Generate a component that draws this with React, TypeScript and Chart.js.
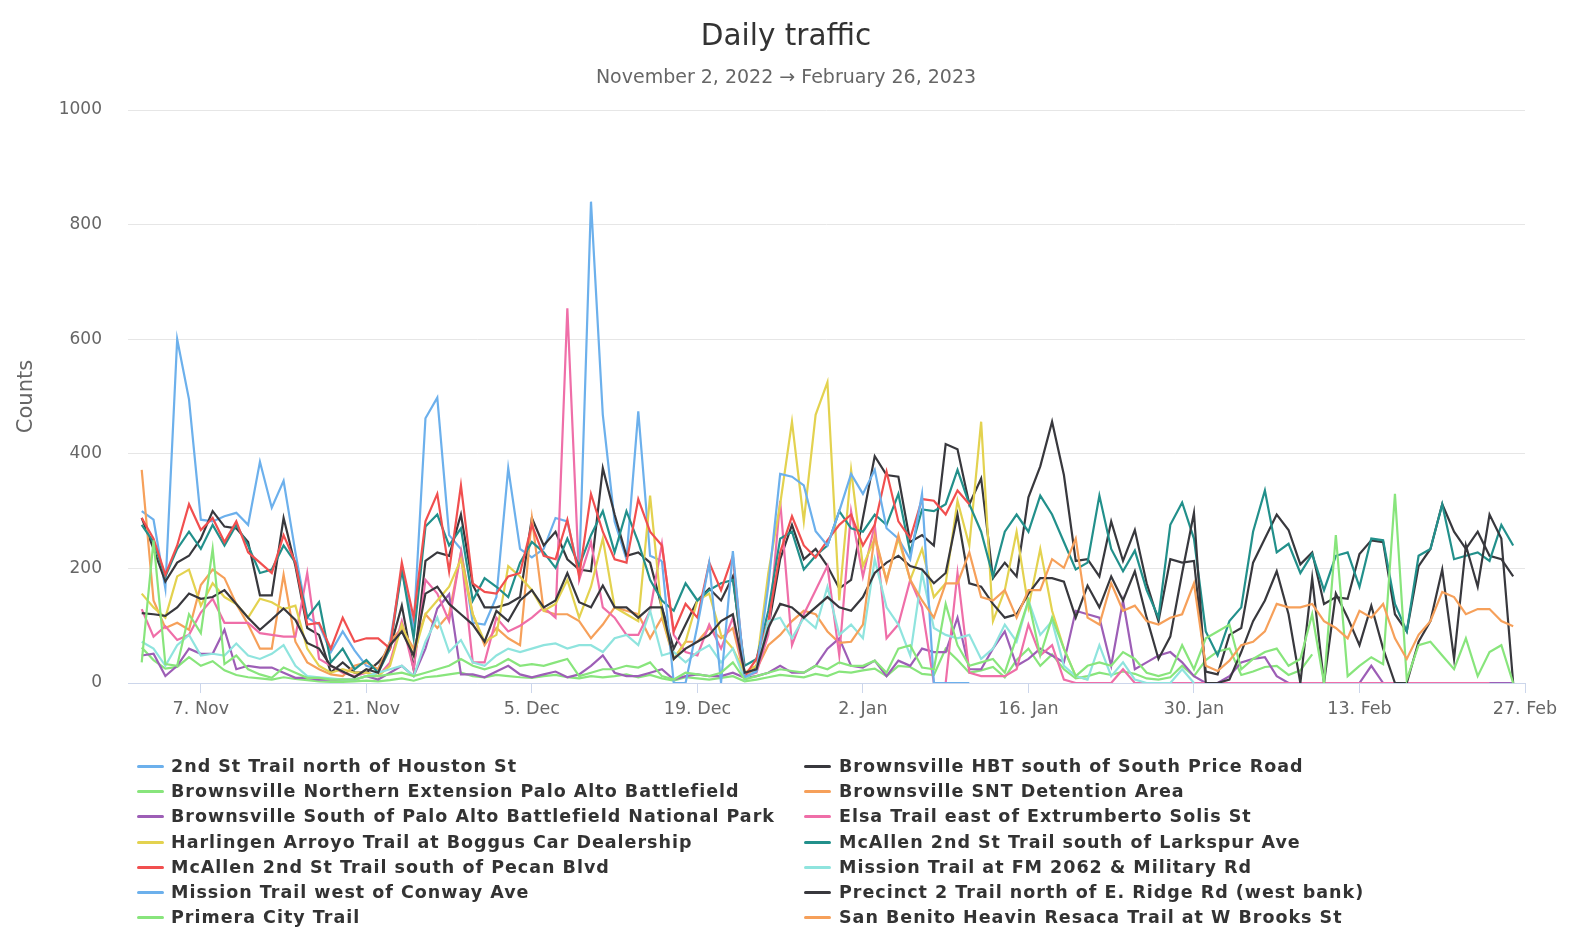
import React, { useEffect, useRef } from "react";
import { Chart, registerables } from "chart.js";

Chart.register(...registerables);

// ---- titles / axis labels ----
const titleText = "Daily traffic";
const subtitleText = "November 2, 2022 → February 26, 2023";
const yAxisTitle = "Counts";
const xTickDays = [5, 19, 33, 47, 61, 75, 89, 103, 117]; // day index from Nov 2, 2022
const xTickLabels = ["7. Nov", "21. Nov", "5. Dec", "19. Dec", "2. Jan", "16. Jan", "30. Jan", "13. Feb", "27. Feb"];
const yTickValues = [0, 200, 400, 600, 800, 1000];

// ---- series names (legend order) ----
const seriesNames = [
  "2nd St Trail north of Houston St",
  "Brownsville HBT south of South Price Road",
  "Brownsville Northern Extension Palo Alto Battlefield",
  "Brownsville SNT Detention Area",
  "Brownsville South of Palo Alto Battlefield National Park",
  "Elsa Trail east of Extrumberto Solis St",
  "Harlingen Arroyo Trail at Boggus Car Dealership",
  "McAllen 2nd St Trail south of Larkspur Ave",
  "McAllen 2nd St Trail south of Pecan Blvd",
  "Mission Trail at FM 2062 & Military Rd",
  "Mission Trail west of Conway Ave",
  "Precinct 2 Trail north of E. Ridge Rd (west bank)",
  "Primera City Trail",
  "San Benito Heavin Resaca Trail at W Brooks St",
];

// first day index of each series' values
const seriesStart = [0, 0, 0, 0, 0, 0, 0, 0, 0, 0, 44, 0, 0, 59];

// ---- daily counts ----
const secondStHouston = [
  300, 285, 165, 600, 495, 285, 282, 291, 297, 276,
  386, 306, 353, 228, 114, 102, 54, 90, 57, 30,
  24, 72, 198, 96, 462, 498, 258, 234, 105, 102,
  150, 375, 234, 219, 234, 288, 282, 192, 840, 468,
  282, 216, 474, 222, 213,
];
const brownsvilleHBT = [
  288, 234, 177, 210, 222, 252, 300, 273, 270, 246,
  153, 153, 288, 204, 96, 84, 18, 36, 18, 18,
  36, 60, 135, 24, 213, 228, 222, 294, 171, 132,
  132, 138, 150, 288, 240, 264, 216, 198, 195, 375,
  294, 222, 228, 210, 132, 60, 102, 144, 165, 144,
  186, 15, 30, 96, 216, 276, 216, 234, 204, 165,
  180, 288, 396, 363, 360, 246, 258, 240, 417, 408,
  312, 357, 183, 210, 186, 324, 378, 456, 363, 213,
  216, 186, 282, 213, 267, 174, 108, 216, 210, 213,
  20, 15, 84, 96, 210, 252, 294, 267, 207, 228,
  138, 150, 147, 225, 249, 246, 120, 90, 204, 234,
  312, 264, 234, 264, 222, 216, 186,
];
const brownsvilleNorthern = [
  62, 40, 25, 28, 45, 30, 38, 22, 14, 10,
  8, 6, 10, 7, 5, 3, 2, 2, 3, 4,
  3, 5, 8, 4, 10, 12, 15, 18, 12, 10,
  14, 12, 10, 9, 12, 14, 10, 8, 12, 10,
  12, 15, 10, 14, 8, 4, 10, 8, 6, 9,
  12, 3, 6, 10, 14, 12, 10, 16, 12, 20,
  18, 22, 25, 12, 30, 28, 16, 14, 60, 40,
  18, 22, 28, 10, 40, 60, 30, 50, 24, 8,
  12, 18, 14, 20, 16, 8, 6, 10, 30, 12,
  40, 55, 60, 14, 20, 28, 30, 14, 22, 50,
];
const brownsvilleSNT = [
  372, 144, 96, 105, 93, 171, 198, 183, 138, 102,
  60, 60, 189, 72, 36, 24, 15, 12, 30, 36,
  24, 72, 96, 60, 120, 96, 120, 228, 120, 66,
  96, 78, 66, 288, 126, 120, 120, 108, 78, 102,
  132, 126, 120, 78, 114, 42, 72, 72, 96, 78,
  96, 12, 24, 66, 84, 108, 126, 120, 90, 70,
];
const brownsvilleSouth = [
  48, 51, 12, 30, 60, 51, 51, 93, 24, 30,
  27, 27, 18, 9, 9, 6, 6, 6, 6, 12,
  6, 18, 30, 12, 60, 130, 155, 15, 15, 10,
  20, 30, 15, 10, 15, 20, 10, 15, 30, 48,
  18, 12, 12, 18, 24, 6, 12, 15, 12, 12,
  18, 9, 12, 18, 30, 18, 18, 30, 60, 78,
  30, 27, 39, 12, 39, 30, 60, 54, 54, 114,
  24, 24, 60, 90, 30, 42, 60, 48, 36, 126,
  120, 114, 30, 144, 24, 36, 48, 54, 36, 12,
  0, 0, 12, 36, 42, 45, 12, 0, 0, 0,
  0, 0, 0, 0, 30, 0, 0, 0, 0, 0,
  0, 0, 0, 0, 0, 0, 0,
];
const elsaTrail = [
  129, 81, 99, 75, 84, 123, 147, 105, 105, 105,
  87, 84, 81, 81, 192, 42, 30, 18, 12, 18,
  12, 36, 108, 24, 180, 156, 108, 228, 36, 36,
  114, 90, 100, 114, 132, 114, 654, 180, 246, 132,
  114, 84, 84, 126, 243, 84, 54, 48, 102, 60,
  114, 12, 18, 84, 318, 66, 120, 162, 204, 48,
  300, 186, 276, 78, 102, 180, 132, 0, 0, 192,
  18, 12, 12, 12, 24, 102, 48, 66, 6, 0,
  0, 0, 0, 24, 0, 0, 0, 0, 0, 0,
  0, 0, 0, 0, 0, 0, 0, 0, 0, 0,
  0, 0, 0, 0, 0, 0, 0, 0, 0, 0,
  0, 0, 0, 0, 0,
];
const harlingenArroyo = [
  156, 132, 114, 186, 198, 135, 174, 150, 138, 114,
  147, 141, 129, 135, 60, 30, 18, 24, 18, 18,
  12, 30, 102, 48, 120, 144, 168, 216, 120, 72,
  84, 204, 186, 162, 126, 138, 180, 114, 168, 252,
  132, 120, 108, 327, 120, 42, 72, 144, 156, 84,
  60, 18, 30, 192, 312, 456, 282, 468, 525, 144,
  372, 204, 252, 180, 252, 180, 234, 150, 174, 318,
  240, 456, 108, 162, 264, 132, 234, 126, 60, 12,
  6,
];
const mcallenLarkspur = [
  276, 246, 186, 234, 264, 234, 276, 240, 276, 240,
  192, 198, 240, 210, 114, 141, 36, 60, 24, 40,
  18, 60, 198, 78, 273, 294, 240, 270, 144, 183,
  168, 150, 210, 246, 228, 201, 252, 204, 258, 300,
  228, 300, 246, 180, 144, 126, 174, 144, 162, 174,
  180, 30, 42, 126, 252, 264, 198, 222, 240, 300,
  270, 264, 294, 276, 330, 228, 303, 300, 312, 372,
  312, 264, 186, 264, 294, 264, 327, 294, 246, 198,
  210, 327, 234, 195, 231, 162, 114, 276, 315, 252,
  90, 48, 108, 132, 264, 336, 228, 243, 192, 225,
  162, 222, 228, 168, 252, 249, 138, 90, 222, 234,
  312, 216, 222, 228, 213, 276, 240,
];
const mcallenPecan = [
  288, 252, 189, 240, 312, 267, 288, 246, 282, 228,
  210, 192, 258, 210, 102, 105, 60, 114, 72, 78,
  78, 60, 210, 114, 282, 330, 195, 345, 174, 159,
  156, 186, 192, 276, 222, 216, 285, 186, 330, 264,
  216, 210, 321, 264, 240, 90, 138, 114, 210, 162,
  222, 12, 42, 108, 228, 291, 240, 219, 249, 276,
  294, 240, 276, 369, 282, 252, 321, 318, 294, 336,
  312,
];
const missionFM2062 = [
  72, 60, 30, 66, 84, 48, 51, 48, 69, 48,
  42, 51, 66, 30, 12, 10, 8, 6, 6, 12,
  18, 24, 30, 12, 72, 114, 54, 75, 36, 30,
  48, 60, 54, 60, 66, 69, 60, 66, 66, 54,
  78, 84, 66, 126, 48, 54, 36, 54, 66, 36,
  60, 6, 24, 108, 114, 78, 114, 96, 168, 84,
  102, 78, 216, 132, 102, 48, 192, 96, 84, 78,
  84, 42, 60, 102, 72, 144, 84, 108, 30, 12,
  6, 66, 12, 36, 6, 0, 0, 0, 24, 0,
];
const missionConway = [
  213, 0, 0, 100, 210, 0, 230, 10, 20, 170,
  365, 360, 345, 265, 240, 300, 365, 330, 372, 270,
  252, 216, 330, 0, 0, 0, 0,
];
const precinct2 = [
  122, 120, 117, 132, 156, 147, 150, 162, 138, 114,
  93, 111, 130, 110, 70, 60, 30, 20, 10, 24,
  18, 66, 90, 48, 156, 168, 138, 120, 102, 72,
  126, 108, 144, 162, 132, 144, 192, 141, 132, 170,
  132, 132, 114, 132, 132, 42, 60, 72, 84, 108,
  120, 18, 24, 96, 138, 132, 114, 132, 150, 132,
  126, 150, 192, 210, 222, 204, 198, 174, 192, 294,
  174, 168, 138, 114, 120, 156, 183, 183, 177, 114,
  170, 132, 186, 144, 195, 114, 42, 81, 192, 297,
  0, 0, 6, 54, 108, 144, 195, 120, 0, 183,
  0, 156, 114, 66, 135, 60, 0, 0, 72, 108,
  198, 42, 240, 168, 294, 252, 0,
];
const primeraCity = [
  36, 249, 33, 30, 120, 87, 234, 33, 48, 24,
  15, 9, 27, 18, 9, 9, 6, 6, 6, 12,
  12, 15, 18, 12, 18, 24, 30, 42, 30, 24,
  30, 42, 30, 33, 30, 36, 42, 12, 18, 24,
  24, 30, 27, 36, 12, 6, 18, 15, 12, 18,
  36, 6, 12, 18, 24, 21, 18, 30, 24, 36,
  30, 30, 39, 18, 60, 66, 27, 24, 138, 66,
  30, 36, 42, 18, 80, 144, 48, 114, 60, 12,
  30, 36, 30, 54, 42, 18, 12, 18, 66, 24,
  78, 90, 102, 24, 42, 54, 60, 30, 42, 120,
  0, 258, 12, 30, 45, 33, 330, 6, 66, 72,
  48, 24, 78, 12, 54, 66, 0,
];
const sanBenito = [
  70, 72, 102, 258, 177, 258, 180, 144, 114, 174,
  174, 228, 150, 144, 162, 114, 162, 162, 216, 201,
  252, 114, 102, 174, 126, 135, 108, 102, 114, 120,
  174, 30, 21, 39, 66, 72, 90, 138, 132, 132,
  138, 108, 96, 78, 126, 114, 138, 78, 42, 84,
  108, 159, 150, 120, 129, 129, 108, 99,
];

const seriesValues = [
  secondStHouston, brownsvilleHBT, brownsvilleNorthern, brownsvilleSNT,
  brownsvilleSouth, elsaTrail, harlingenArroyo, mcallenLarkspur,
  mcallenPecan, missionFM2062, missionConway, precinct2, primeraCity, sanBenito,
];

const seriesColors = [
  "#6cb0ec", "#38383d", "#88e57c", "#f6a05a", "#9d5eb6", "#ef6ea8", "#e3d24f",
  "#22908b", "#f14f4f", "#8fe4de", "#6cb0ec", "#38383d", "#88e57c", "#f6a05a",
];

const FONT = "'DejaVu Sans', 'Noto Sans', sans-serif";

const titlesPlugin = {
  id: "titlesPlugin",
  afterDraw(chart: any) {
    const ctx = chart.ctx as CanvasRenderingContext2D;
    ctx.save();
    ctx.textAlign = "center";
    ctx.textBaseline = "middle";
    ctx.fillStyle = "#333333";
    ctx.font = `normal 29.5px ${FONT}`;
    ctx.fillText(titleText, 786, 37.5);
    ctx.fillStyle = "#666666";
    ctx.font = `normal 19px ${FONT}`;
    ctx.fillText(subtitleText, 786, 77.7);
    ctx.restore();
  },
};

export default function App() {
  const canvasRef = useRef<HTMLCanvasElement | null>(null);

  useEffect(() => {
    document.body.style.margin = "0";
    const canvas = canvasRef.current;
    if (!canvas) return;
    const datasets = seriesNames.map((name, i) => ({
      label: name,
      data: seriesValues[i].map((v, j) => ({ x: seriesStart[i] + j, y: v })),
      borderColor: seriesColors[i],
      backgroundColor: seriesColors[i],
      borderWidth: 2.2,
      pointRadius: 0,
      tension: 0,
      fill: false,
      spanGaps: false,
      order: seriesNames.length - i,
    }));
    const chart = new Chart(canvas, {
      type: "line",
      data: { datasets } as any,
      plugins: [titlesPlugin],
      options: {
        responsive: false,
        animation: false,
        parsing: false as any,
        normalized: true,
        layout: { padding: { left: 0, right: 58, top: 110, bottom: 221 } },
        plugins: {
          legend: { display: false },
          tooltip: { enabled: false },
          title: { display: false },
          subtitle: { display: false },
        },
        scales: {
          x: {
            type: "linear",
            min: -1.16,
            max: 117,
            afterBuildTicks: (axis: any) => {
              axis.ticks = xTickDays.map((v) => ({ value: v }));
            },
            ticks: {
              autoSkip: false,
              maxRotation: 0,
              color: "#666666",
              padding: 6,
              font: { family: FONT, size: 17.5 },
              callback: (v: any) => {
                const k = xTickDays.indexOf(Number(v));
                return k >= 0 ? xTickLabels[k] : "";
              },
            },
            grid: {
              drawOnChartArea: false,
              drawTicks: true,
              tickLength: 10,
              color: "#ccd6eb",
              lineWidth: 1,
            },
            border: { display: true, color: "#ccd6eb", width: 1 },
          },
          y: {
            min: 0,
            max: 1000,
            afterBuildTicks: (axis: any) => {
              axis.ticks = yTickValues.map((v) => ({ value: v }));
            },
            afterFit: (scale: any) => {
              scale.width = 128;
            },
            ticks: {
              color: "#666666",
              padding: 26,
              font: { family: FONT, size: 17 },
              callback: (v: any) => String(v),
            },
            grid: { color: "#e6e6e6", lineWidth: 1, drawTicks: false },
            border: { display: false },
            title: {
              display: true,
              text: yAxisTitle,
              color: "#666666",
              font: { family: FONT, size: 21 },
              padding: { top: 14, bottom: 0 },
            },
          },
        },
      } as any,
    });
    return () => chart.destroy();
  }, []);

  const rowTop = 756;
  const rowStep = 25.2;

  return (
    <div style={{ position: "relative", width: 1583, height: 947, background: "#ffffff", overflow: "hidden" }}>
      <canvas ref={canvasRef} width={1583} height={947} style={{ position: "absolute", left: 0, top: 0 }} />
      {seriesNames.map((name, i) => {
        const col = i % 2;
        const row = Math.floor(i / 2);
        const symLeft = col === 0 ? 137 : 804;
        const textLeft = col === 0 ? 171 : 839;
        const top = rowTop + row * rowStep;
        return (
          <div key={name} style={{ position: "absolute", left: 0, top, height: 21, width: 1583 }}>
            <span
              style={{
                position: "absolute",
                left: symLeft,
                top: 9,
                width: 27,
                height: 3,
                borderRadius: 1.5,
                background: seriesColors[i],
              }}
            />
            <span
              style={{
                position: "absolute",
                left: textLeft,
                top: 0,
                lineHeight: "21px",
                whiteSpace: "nowrap",
                fontFamily: FONT,
                fontWeight: "bold",
                fontSize: 17.5,
                letterSpacing: "1px",
                color: "#333333",
              }}
            >
              {name}
            </span>
          </div>
        );
      })}
    </div>
  );
}
